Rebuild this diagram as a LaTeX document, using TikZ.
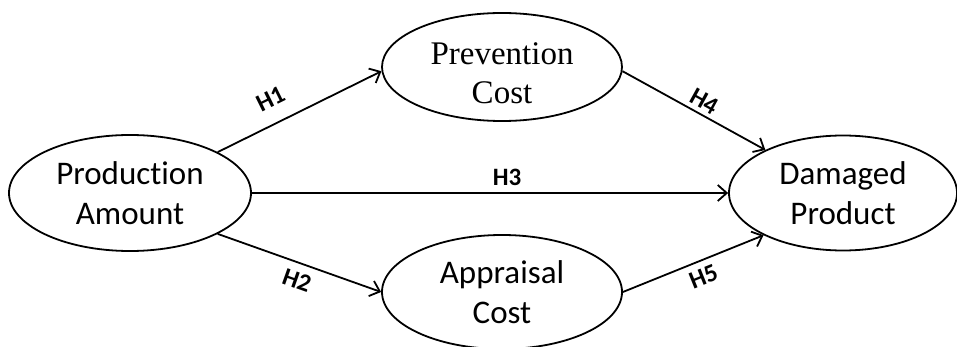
\documentclass[tikz,border=0pt]{standalone}
\usepackage{fontspec}
\setmainfont{Carlito}[Ligatures=NoCommon]
\newfontfamily\timesfont{Liberation Serif}
\usetikzlibrary{shapes.geometric,arrows.meta}
\begin{document}
\begin{tikzpicture}[x=1pt,y=-1pt,
  ell/.style={ellipse, draw, line width=1.8pt, inner sep=0pt, align=center,
              font=\fontsize{33}{40}\selectfont},
  txt/.style={inner sep=0pt, align=center},
  conn/.style={line width=1.8pt, -{Straight Barb[length=9pt,width=16pt]}},
  lbl/.style={font=\bfseries\fontsize{25}{27}\selectfont, sloped, inner sep=0pt}]
\useasboundingbox (0,0) rectangle (957,347);
\clip (0,0) rectangle (957,347);

\node[ell, minimum width=242pt, minimum height=116pt] (pa) at (130,193) {Production\\Amount};
\node[ell, minimum width=240pt, minimum height=108pt] (pc) at (502,67) {};
\node[txt, font=\timesfont\fontsize{33}{39}\selectfont] (pct) at (502,73) {Prevention\\Cost};
\node[ell, minimum width=240pt, minimum height=114pt] (ac) at (502,292) {Appraisal\\Cost};
\node[ell, minimum width=228pt, minimum height=115pt] (dp) at (843,193) {Damaged\\Product};

\draw[conn] (pa.25.5) -- node[lbl, pos=0.387, yshift=24pt] (h1) {H1} (pc.182);
\draw[conn] (pa.-25.5) -- node[lbl, pos=0.52, yshift=-17pt] (h2) {H2} (ac.180);
\draw[conn] (pa.0) -- node[lbl, pos=0.536, yshift=16pt] (h3) {H3} (dp.180);
\draw[conn] (pc.-2) -- node[lbl, pos=0.53, yshift=13pt] (h4) {H4} (dp.151.7);
\draw[conn] (ac.0) -- node[lbl, pos=0.53, yshift=-16pt] (h5) {H5} (dp.208.5);
\end{tikzpicture}
\end{document}
